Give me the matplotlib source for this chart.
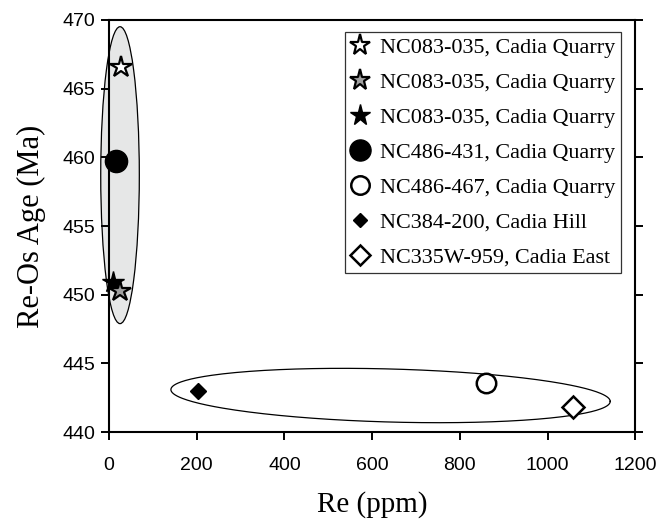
import numpy as np
import matplotlib.pyplot as plt
from matplotlib.patches import Ellipse

# données (Re en ppm, âge Re-Os en Ma)
labels = ["NC083-035, Cadia Quarry", "NC083-035, Cadia Quarry", "NC083-035, Cadia Quarry",
          "NC486-431, Cadia Quarry", "NC486-467, Cadia Quarry", "NC384-200, Cadia Hill",
          "NC335W-959, Cadia East"]
re_ppm = [27, 25, 9, 16, 860, 203, 1058]
age_ma = [466.6, 450.3, 450.9, 459.7, 443.6, 443.0, 441.8]

markers = ["*", "*", "*", "o", "o", "D", "D"]
faces = ["white", "#a0a0a0", "black", "black", "white", "black", "white"]
sizes = [16, 16, 16, 16, 14, 8, 11]
edgew = [1.6, 1.6, 1.0, 1.0, 1.8, 1.0, 1.8]

x_ticks = [0, 200, 400, 600, 800, 1000, 1200]
y_ticks = [440, 445, 450, 455, 460, 465, 470]

serif = "Liberation Serif"
sans = "Liberation Sans"

fig = plt.figure(figsize=(6.61, 5.22), dpi=100)
ax = fig.add_axes([0.165, 0.172, 0.796, 0.79])

# ellipse grise autour des échantillons à faible Re (elle dépasse l'axe)
ax.add_patch(Ellipse((25, 458.7), 88, 21.6, facecolor="#e6e7e7",
                     edgecolor="black", linewidth=0.9, zorder=1, clip_on=False))

# ellipse inclinée autour des échantillons riches en Re
t = np.linspace(0, 2 * np.pi, 300)
ex = 642 + 501 * np.cos(t)
ey = 442.67 + 1.93 * np.sin(t) - 0.43 * np.cos(t)
ax.plot(ex, ey, color="black", linewidth=0.9, zorder=1)

# les points sont dessinés dans un ordre pour que les étoiles restent visibles
handles = {}
for i in [3, 0, 2, 1, 4, 5, 6]:
    h, = ax.plot(re_ppm[i], age_ma[i], linestyle="none", marker=markers[i],
                 markersize=sizes[i], markerfacecolor=faces[i], markeredgecolor="black",
                 markeredgewidth=edgew[i], zorder=3, clip_on=False)
    handles[i] = h

leg = ax.legend([handles[i] for i in range(7)], labels, loc="upper right",
                bbox_to_anchor=(0.973, 0.971), borderaxespad=0,
                frameon=True, fancybox=False, edgecolor="black",
                prop={"family": serif, "size": 15.9}, handletextpad=0.45,
                labelspacing=0.66, borderpad=0.25, handlelength=0.9, markerscale=0.95)
leg.get_frame().set_linewidth(0.9)

ax.set_xlim(0, 1200)
ax.set_ylim(440, 470)
ax.set_xticks(x_ticks)
ax.set_yticks(y_ticks)
for lab in ax.get_xticklabels() + ax.get_yticklabels():
    lab.set_family(sans)
    lab.set_fontsize(14)
ax.tick_params(axis="both", direction="out", length=6, width=1.4)
ax.tick_params(axis="x", pad=12)
ax.tick_params(axis="y", pad=4, right=True)
for s in ax.spines.values():
    s.set_linewidth(1.5)

ax.set_xlabel("Re (ppm)", family=serif, fontsize=21, labelpad=12)
ax.set_ylabel("Re-Os Age (Ma)", family=serif, fontsize=22, labelpad=12)

fig.savefig("out.png", dpi=100)
